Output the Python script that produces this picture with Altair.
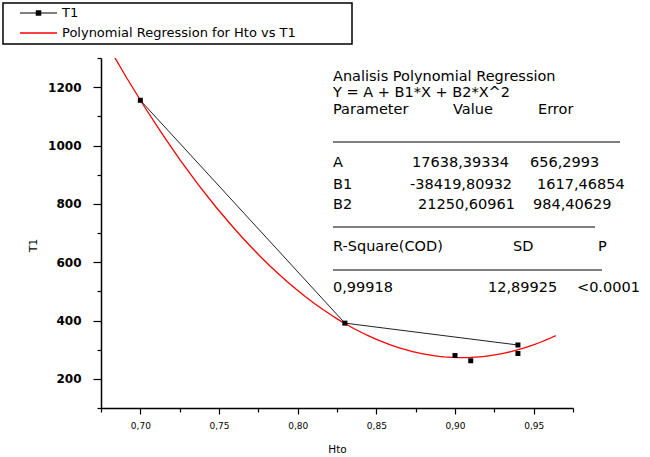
import altair as alt
import pandas as pd

# ---- data ----
hto = [0.70, 0.83, 0.94, 0.94, 0.91, 0.90]
t1 = [1155, 391, 316, 287, 262, 280]
on_line = [True, True, True, False, False, False]

legend_labels = ["T1", "Polynomial Regression for Hto vs T1"]

table_title = ["Analisis Polynomial Regression", "Y = A + B1*X + B2*X^2"]
table_header = ["Parameter", "Value", "Error"]
param_names = ["A", "B1", "B2"]
param_values = ["17638,39334", "-38419,80932", "21250,60961"]
param_errors = ["656,2993", "1617,46854", "984,40629"]
stat_header = ["R-Square(COD)", "SD", "P"]
stat_values = ["0,99918", "12,89925", "<0.0001"]

x_ticks = [0.675, 0.70, 0.725, 0.75, 0.775, 0.80, 0.825, 0.85, 0.875, 0.90, 0.925, 0.95, 0.975]
y_ticks = [100, 200, 300, 400, 500, 600, 700, 800, 900, 1000, 1100, 1200, 1300]

df = pd.DataFrame({"Hto": hto, "T1": t1, "on_line": on_line, "seq": list(range(len(hto)))})

FONT = "DejaVu Sans"
W, H = 472, 350

xscale = alt.Scale(domain=[0.675, 0.975], nice=False, zero=False)
yscale = alt.Scale(domain=[100, 1300], nice=False, zero=False)

xaxis = alt.Axis(
    values=x_ticks,
    labelExpr="abs(round(datum.value*20) - datum.value*20) < 0.001 ? replace(format(datum.value, '.2f'), '.', ',') : ''",
    grid=False, domainColor="black", domainWidth=1.5, tickColor="black", tickWidth=1.2,
    tickSize={"condition": {"test": "abs(round(datum.value*20) - datum.value*20) < 0.001", "value": 6}, "value": 4},
    labelFont=FONT, labelFontSize=9, labelColor="black", labelPadding=7, labelOverlap=False,
    title="Hto", titleFont=FONT, titleFontSize=10.5, titleFontWeight="normal", titleColor="black",
    titlePadding=14, labelFlush=False, labelBound=False,
)
yaxis = alt.Axis(
    values=y_ticks,
    labelExpr="datum.value % 200 == 0 ? format(datum.value, 'd') : ''",
    grid=False, domainColor="black", domainWidth=1.5, tickColor="black", tickWidth=1.2,
    tickSize={"condition": {"test": "datum.value % 200 == 0", "value": 8}, "value": 4},
    labelFont=FONT, labelFontSize=12, labelFontWeight="bold", labelColor="black", labelPadding=12,
    labelOverlap=False, labelBound=False,
    title="T1", titleFont=FONT, titleFontSize=11, titleFontWeight="normal", titleColor="black",
    titleX=-63, titleY=187, labelFlush=False,
)

X = alt.X("Hto:Q", scale=xscale, axis=xaxis)
Y = alt.Y("T1:Q", scale=yscale, axis=yaxis)

base = alt.Chart(df)

fit = base.transform_regression(
    "Hto", "T1", method="poly", order=2, extent=[0.68, 0.964]
).mark_line(color="#ff0000", strokeWidth=1.3, clip=True).encode(x=X, y=Y)

conn = base.transform_filter("datum.on_line").mark_line(color="#222222", strokeWidth=1).encode(
    x=X, y=Y, order="seq:Q",
)

pts = base.mark_square(color="black", size=25, opacity=1).encode(x=X, y=Y)

layers = [fit, conn, pts]


def txt(s, x, y, size=14.5, align="left", color="black"):
    return alt.Chart(pd.DataFrame({"t": [s]})).mark_text(
        align=align, baseline="middle", font=FONT, fontSize=size, color=color
    ).encode(text="t:N", x=alt.value(x), y=alt.value(y))


def hrule(x1, x2, y, color="black", width=1.2):
    return alt.Chart(pd.DataFrame({"a": [0]})).mark_rule(color=color, strokeWidth=width).encode(
        x=alt.value(x1), x2=alt.value(x2), y=alt.value(y)
    )


# ---- legend (drawn relative to the plot origin) ----
legend_box = alt.Chart(pd.DataFrame({"a": [0]})).mark_rect(
    fill="white", stroke="black", strokeWidth=1.5
).encode(x=alt.value(-98), x2=alt.value(251), y=alt.value(-55), y2=alt.value(-14))
layers.append(legend_box)
layers.append(hrule(-81, -44, -45, color="black", width=1.2))
layers.append(
    alt.Chart(pd.DataFrame({"a": [0]})).mark_square(color="black", size=30, opacity=1).encode(
        x=alt.value(-62.5), y=alt.value(-45)
    )
)
layers.append(txt(legend_labels[0], -39, -45, size=13))
layers.append(hrule(-81, -44, -25, color="#ff0000", width=1.3))
layers.append(txt(legend_labels[1], -39, -25, size=13))

# ---- regression report table ----
TX = 232
layers.append(txt(table_title[0], TX, 19))
layers.append(txt(table_title[1], TX, 35))
for s, x in zip(table_header, [TX, 352, 437]):
    layers.append(txt(s, x, 52))
layers.append(hrule(TX, 519, 84))
for row_y, name, val, err, vx, ex in zip(
    [105, 127, 147], param_names, param_values, param_errors, [311, 309, 317], [429, 436, 432]
):
    layers.append(txt(name, TX, row_y))
    layers.append(txt(val, vx, row_y))
    layers.append(txt(err, ex, row_y))
layers.append(hrule(TX, 494, 169))
for s, x in zip(stat_header, [TX, 412, 497]):
    layers.append(txt(s, x, 189))
layers.append(hrule(TX, 501, 212))
for s, x in zip(stat_values, [TX, 387, 476]):
    layers.append(txt(s, x, 230))

chart = alt.layer(*layers).properties(
    width=W, height=H,
    autosize=alt.AutoSizeParams(type="none"),
    padding={"left": 101, "top": 58, "right": 77, "bottom": 49},
    background="white",
).configure_view(stroke=None)

chart.save("out.html", embed_options={"renderer": "svg", "actions": False})
